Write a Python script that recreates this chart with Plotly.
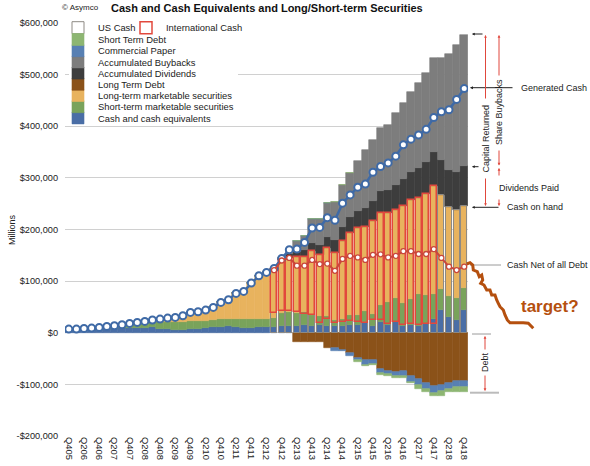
import plotly.graph_objects as go

# ---------------- data ($ millions) ----------------
quarters = ['Q405',
            'Q106', 'Q206', 'Q306', 'Q406', 'Q107', 'Q207', 'Q307', 'Q407',
            'Q108', 'Q208', 'Q308', 'Q408', 'Q109', 'Q209', 'Q309', 'Q409',
            'Q110', 'Q210', 'Q310', 'Q410', 'Q111', 'Q211', 'Q311', 'Q411',
            'Q112', 'Q212', 'Q312', 'Q412', 'Q113', 'Q213', 'Q313', 'Q413',
            'Q114', 'Q214', 'Q314', 'Q414', 'Q115', 'Q215', 'Q315', 'Q415',
            'Q116', 'Q216', 'Q316', 'Q416', 'Q117', 'Q217', 'Q317', 'Q417',
            'Q118', 'Q218', 'Q318', 'Q418']

tick_labels = ['Q405', 'Q206', 'Q406', 'Q207', 'Q407', 'Q208', 'Q408', 'Q209', 'Q409',
               'Q210', 'Q410', 'Q211', 'Q411', 'Q212', 'Q412', 'Q213', 'Q413', 'Q214',
               'Q414', 'Q215', 'Q415', 'Q216', 'Q416', 'Q217', 'Q417', 'Q218', 'Q418']

y_tick_values = [-200000, -100000, 0, 100000, 200000, 300000, 400000, 500000, 600000]
y_tick_labels = ['-$200,000', '-$100,000', '$0', '$100,000', '$200,000', '$300,000',
                 '$400,000', '$500,000', '$600,000']

cash_equivalents = [4000, 4200, 4800, 5600, 6000, 6500, 7000, 8500, 9000, 8500,
                    9000, 10500, 8000, 7500, 6000, 5500, 7500, 8000, 9500, 10500,
                    11500, 14000, 12000, 10000, 10000, 11500, 10500, 10700, 13000, 13500,
                    13000, 14300, 14000, 14500, 12800, 13800, 14000, 14500, 15500, 21100,
                    14000, 20000, 15500, 20500, 14000, 15500, 14000, 17000, 26000, 44000,
                    30500, 25000, 44000]

short_term_securities = [3100, 2900, 3600, 3400, 4300, 5800, 6600, 7000, 8100, 10500,
                         10500, 11000, 12000, 13000, 14000, 15500, 14500, 14000, 13000, 14000,
                         14500, 13000, 15000, 16000, 16000, 15500, 17000, 18400, 25000, 26000,
                         26000, 25000, 21000, 17000, 19000, 11200, 13500, 20000, 19500, 20500,
                         23000, 33500, 44500, 47000, 44000, 49500, 61000, 57000, 49000, 41000,
                         40000, 41500, 42000]

long_term_securities = [0, 0, 0, 0, 0, 0, 0, 0, 1000, 1000,
                        2500, 3100, 6500, 7900, 9700, 11900, 17400, 18700, 21400, 24600,
                        32800, 37000, 49200, 54100, 70300, 83500, 89400, 92200, 102000, 105200,
                        107600, 107500, 123800, 119100, 132700, 130200, 150400, 159000, 167800, 164100,
                        178700, 179400, 171500, 170100, 188100, 191800, 186500, 194900, 210100, 182200,
                        173200, 170600, 159000]

accumulated_dividends = [0] * 27 + [2500, 5000, 7500, 10300, 13100, 15900, 18700, 21600, 24500,
                                    27400, 30300, 33300, 36300, 39400, 42500, 45600, 48700, 51800,
                                    54900, 58100, 61300, 64500, 67700, 71400, 75100, 78600]

accumulated_buybacks = [0] * 29 + [8000, 20000, 28000, 45000, 52000, 65000, 73000, 80000, 86000,
                                   96000, 112000, 118000, 122000, 125000, 140000, 148000, 154000,
                                   164000, 172000, 182000, 197000, 225000, 246000, 254000]

long_term_debt = [0] * 30 + [17000, 17000, 17000, 17000, 29000, 29000, 32500, 40000, 48000, 53500,
                             53200, 71000, 74000, 75400, 73600, 84500, 89900, 97200, 103900,
                             101400, 97100, 93700, 92900]

commercial_paper = [0] * 30 + [0, 0, 0, 0, 0, 6300, 2500, 5000, 5500, 8500, 7000, 7000, 6000, 8100,
                               10500, 10000, 12000, 12000, 12000, 12000, 12000, 12000, 12000]

short_term_debt = [0] * 30 + [0, 0, 0, 0, 0, 0, 0, 0, 2500, 2500, 2500, 3000, 3000, 3500, 3500,
                              3500, 6500, 6500, 6500, 8500, 5500, 8800, 10000]

us_cash = [None] * 27 + [38700, 43000, 42600, 40300, 35500, 34400, 18300, 26400, 18100, 20400,
                         22200, 21700, 18800, 23800, 24600, 16400, 21600, 15400, 16200, 14800,
                         16600, 16000, 267200, 243700, 237100, 245000]

international_cash = [None] * 27 + [82600, 97000, 102100, 106300, 111300, 124400, 132300, 138100,
                                    137100, 157500, 171300, 181100, 186900, 191900, 208300, 215100,
                                    216000, 230700, 240600, 246700, 252300, 269100,
                                    None, None, None, None]

generated_cash = [7100, 7100, 8400, 9000, 10300, 12300, 13600, 15500, 18100, 20000,
                  22000, 24600, 26500, 28400, 29700, 32900, 39400, 40700, 43900, 49100,
                  58800, 64000, 76200, 80100, 96300, 110500, 116900, 124600, 144000, 161000,
                  162000, 175000, 203000, 204000, 223000, 218000, 251000, 267000, 282000, 288000,
                  311000, 322000, 329000, 342000, 364000, 375000, 383000, 394000, 417000, 428000,
                  432000, 452000, 473000]

cash_net_of_debt = [None] * 27 + [121300, 140000, 145000, 130000, 130000, 141000, 133000, 134000,
                                  120000, 143000, 149000, 146000, 141000, 151000, 152000, 146000,
                                  149000, 158000, 158000, 152500, 152500, 162000, 145000, 128000,
                                  121500, 128000]

# ---------------- styling ----------------
FONT = 'Liberation Sans, Arial, Helvetica, sans-serif'
W, H = 590, 466
PL, PR, PT, PB = 65, 468, 23, 436   # plot area in pixels


def px(x):
    return (x - PL) / (PR - PL)


def py(y):
    return (PB - y) / (PB - PT)


n = len(quarters)
bar_w = [1.0 if i < 27 else 0.8 for i in range(n)]
full_w = [1.0] * n

C_CASH = '#4a6ea6'
C_STMS = '#79a35b'
C_LTMS = '#e8b35e'
C_DIV = '#3d3d3d'
C_BUY = '#7d7d7d'
C_LTD = '#8b5219'
C_CP = '#5880b3'
C_STD = '#8db672'
C_RED = '#e2483d'
C_BLUE_LINE = '#3f6aa6'
C_RED_LINE = '#c9473b'
C_TARGET = '#b5500f'

fig = go.Figure()


def bar(name, y, color, width, legend, neg=False):
    yy = [-v for v in y] if neg else y
    fig.add_trace(go.Bar(x=quarters, y=yy, name=name, width=width,
                         marker=dict(color=color, line=dict(width=0.6, color=color)),
                         legend=legend, hoverinfo='skip'))


bar('Cash and cash equivalents', cash_equivalents, C_CASH, bar_w, 'legend10')
bar('Short-term marketable securities', short_term_securities, C_STMS, bar_w, 'legend9')
bar('Long-term marketable securities', long_term_securities, C_LTMS, bar_w, 'legend8')
bar('Long Term Debt', long_term_debt, C_LTD, full_w, 'legend7', neg=True)
bar('Accumulated Dividends', accumulated_dividends, C_DIV, full_w, 'legend6')
bar('Accumulated Buybacks', accumulated_buybacks, C_BUY, full_w, 'legend5')
bar('Commercial Paper', commercial_paper, C_CP, full_w, 'legend4', neg=True)
bar('Short Term Debt', short_term_debt, C_STD, full_w, 'legend3', neg=True)

# outline bars (overlay axes)
fig.add_trace(go.Bar(x=quarters, y=us_cash, name='US Cash', width=0.8,
                     marker=dict(color='rgba(0,0,0,0)', line=dict(color='#8e8a84', width=1)),
                     xaxis='x2', yaxis='y2', legend='legend', hoverinfo='skip'))
fig.add_trace(go.Bar(x=quarters, y=international_cash, name='International Cash', width=0.8,
                     marker=dict(color='rgba(0,0,0,0)', line=dict(color=C_RED, width=1.5)),
                     xaxis='x2', yaxis='y2', legend='legend2', hoverinfo='skip'))

# lines
fig.add_trace(go.Scatter(x=quarters, y=generated_cash, mode='lines+markers', showlegend=False,
                         line=dict(color=C_BLUE_LINE, width=2.5),
                         marker=dict(symbol='circle', size=7, color='white',
                                     line=dict(color=C_BLUE_LINE, width=2)),
                         xaxis='x2', yaxis='y2', hoverinfo='skip'))
fig.add_trace(go.Scatter(x=quarters, y=cash_net_of_debt, mode='lines+markers', showlegend=False,
                         line=dict(color=C_RED_LINE, width=2),
                         marker=dict(symbol='circle', size=5, color='white',
                                     line=dict(color=C_RED_LINE, width=1.3)),
                         xaxis='x2', yaxis='y2', hoverinfo='skip'))

# ---------------- legends ----------------
LEG_FONT = dict(family=FONT, size=9.4, color='#222')
legend_rows = {
    'legend': (58, 27.7), 'legend2': (126, 27.7),
    'legend3': (58, 39.5), 'legend4': (58, 50.7), 'legend5': (58, 61.9),
    'legend6': (58, 73.1), 'legend7': (58, 84.3), 'legend8': (58, 95.5),
    'legend9': (58, 106.7), 'legend10': (58, 117.9),
}
legend_layout = {}
for key, (lx, ly) in legend_rows.items():
    legend_layout[key] = dict(x=px(lx), y=py(ly), xanchor='left', yanchor='middle',
                              bgcolor='rgba(0,0,0,0)', borderwidth=0, font=LEG_FONT,
                              tracegroupgap=0, itemwidth=30)

# ---------------- annotations & shapes ----------------
ann = []
TXT = dict(family=FONT, size=9, color='#222')


def text(t, x, y, xanchor='left', angle=0, font=TXT):
    ann.append(dict(text=t, x=px(x), y=py(y), xref='paper', yref='paper', showarrow=False,
                    xanchor=xanchor, yanchor='middle', textangle=angle, font=font))


def arrow(xh, yh, xt, yt, color, head=2, size=0.55, width=1):
    ann.append(dict(text='', x=px(xh), y=py(yh), xref='paper', yref='paper',
                    ax=xt - xh, ay=yt - yh, axref='pixel', ayref='pixel', showarrow=True,
                    arrowhead=head, arrowsize=size, arrowwidth=width, arrowcolor=color,
                    standoff=0, startstandoff=0))


text('<b>Cash and Cash Equivalents and Long/Short-term Securities</b>', 109, 8,
     font=dict(family=FONT, size=11, color='#111'))
text('© Asymco', 60, 7.5, font=dict(family=FONT, size=8, color='#222'))
text('Millions', 12, 230, xanchor='center', angle=-90, font=dict(family=FONT, size=9, color='#222'))

text('Generated Cash', 519, 87.7)
text('Dividends Paid', 497, 187.7)
text('Cash on hand', 505, 207.3)
text('Cash Net of all Debt', 505, 265)
text('Capital Returned', 485.5, 138, xanchor='center', angle=-90)
text('Share Buybacks', 499, 112, xanchor='center', angle=-90)
text('Debt', 485, 362, xanchor='center', angle=-90)
text('<b>target?</b>', 519, 306.5, font=dict(family=FONT, size=17, color=C_TARGET))

BLK = '#222'
arrow(472, 34, 484, 34, BLK)
arrow(472, 166.7, 480, 166.7, BLK)
arrow(472, 207.3, 500, 207.3, BLK)
arrow(470, 87.7, 514, 87.7, BLK, size=0.6)

RED = '#e0473c'
arrow(485.5, 35, 485.5, 100, RED)
arrow(485.5, 206, 485.5, 177, RED)
arrow(499, 35, 499, 77, RED)
arrow(499, 165.5, 499, 149, RED)
arrow(499, 168, 499, 177, RED)
arrow(499, 206, 499, 198, RED)
arrow(485, 336, 485, 351, RED)
arrow(485, 391, 485, 374, RED)

shapes = []


def hline(x0, x1, y, color, width=1):
    shapes.append(dict(type='line', xref='paper', yref='paper', x0=px(x0), x1=px(x1),
                       y0=py(y), y1=py(y), line=dict(color=color, width=width)))


hline(470, 501, 265, '#9a9a9a')
hline(472, 491, 334, '#9a9a9a')
hline(470, 499, 392.7, '#bbbbbb', 2)

# white legend background box
shapes.append(dict(type='rect', xref='paper', yref='paper', layer='above',
                   x0=px(69), x1=px(238), y0=py(121), y1=py(19),
                   fillcolor='white', line=dict(width=0)))

squiggle = [(466.7, 264), (470, 262.7), (472.7, 265), (473.3, 270), (477.3, 271.7),
            (479.3, 276.7), (481.7, 275), (482.7, 280), (480.7, 283.3), (484, 285),
            (486.7, 290), (490, 290), (491.7, 295), (495, 295), (496.7, 300),
            (498.3, 303.3), (500, 306.7), (503.3, 310), (505, 315), (507.3, 320),
            (510, 322.7), (516.7, 322.7), (523.3, 322.7), (528.3, 323.3), (533.3, 328.3)]
path = 'M ' + ' L '.join(f'{px(a):.4f},{py(b):.4f}' for a, b in squiggle)
shapes.append(dict(type='path', xref='paper', yref='paper', path=path,
                   line=dict(color=C_TARGET, width=3)))

# ---------------- layout ----------------
fig.update_layout(
    width=W, height=H,
    margin=dict(l=PL, r=W - PR, t=PT, b=H - PB, autoexpand=False),
    paper_bgcolor='white', plot_bgcolor='white',
    barmode='relative', bargap=0,
    font=dict(family=FONT, size=9.2, color='#222'),
    xaxis=dict(type='category', categoryorder='array', categoryarray=quarters,
               range=[-0.5, n - 0.5], tickmode='array', tickvals=tick_labels,
               ticktext=tick_labels, tickangle=90, showgrid=False, zeroline=False,
               showline=False, ticks='', tickfont=dict(family=FONT, size=9.4, color='#222')),
    yaxis=dict(range=[-200000, 600000], tickmode='array', tickvals=y_tick_values,
               ticktext=y_tick_labels, showgrid=True, gridcolor='#d0d0d0', gridwidth=1,
               zeroline=False, showline=False, ticks='', ticklabelstandoff=6,
               tickfont=dict(family=FONT, size=9.2, color='#222')),
    xaxis2=dict(type='category', categoryorder='array', categoryarray=quarters,
                range=[-0.5, n - 0.5], overlaying='x', visible=False),
    yaxis2=dict(range=[-200000, 600000], overlaying='y', visible=False),
    annotations=ann, shapes=shapes,
    **legend_layout,
)

fig.write_html('out.html', config={'displayModeBar': False},
               post_script="document.body.style.margin='0';document.body.style.overflow='hidden';")
